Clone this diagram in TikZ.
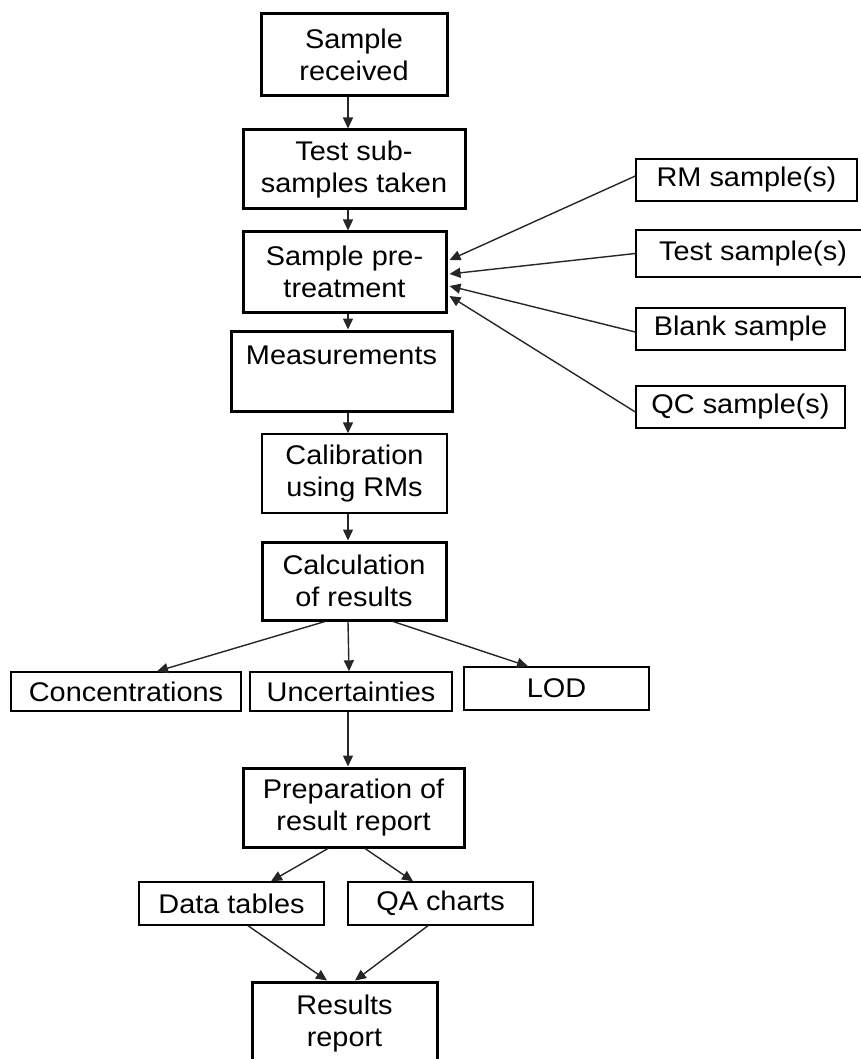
\documentclass[tikz,border=0pt]{standalone}
\usepackage{fontspec}
\setmainfont{Liberation Sans}[FakeStretch=1.07]
\usetikzlibrary{arrows.meta,calc}
\begin{document}
\begin{tikzpicture}[x=1pt,y=-1pt,
  box/.style={draw=black,rectangle,inner sep=0pt,align=center,
    font=\fontsize{27}{32}\selectfont},
  thickbox/.style={box,line width=3pt},
  thinbox/.style={box,line width=1.4pt},
  arr/.style={line width=1.4pt,draw=black!85,-{Triangle[length=11pt,width=10pt]}}]
\useasboundingbox (0,0) rectangle (860,1059);
\coordinate (col) at (348,0);
% main column
\node[thickbox,minimum width=186pt,minimum height=82pt] (recv) at (354,55) {Sample\\received};
\node[thickbox,minimum width=222pt,minimum height=79pt] (sub) at (354,169.5) {Test sub-\\samples taken};
\node[thickbox,minimum width=203pt,minimum height=80pt] (pre) at (344.5,272) {Sample pre-\\treatment};
\node[thickbox,minimum width=221pt,minimum height=80pt] (meas) at (341.5,371) {Measurements\\~};
\node[thinbox,minimum width=185pt,minimum height=79pt] (calib) at (354.5,473.5) {Calibration\\using RMs};
\node[thickbox,minimum width=184pt,minimum height=78pt] (calc) at (354,581) {Calculation\\of results};
\node[thinbox,minimum width=230pt,minimum height=39pt] (conc) at (126,691.5) {Concentrations};
\node[thinbox,minimum width=202pt,minimum height=39pt] (unc) at (351,691.5) {Uncertainties};
\node[thinbox,minimum width=185pt,minimum height=43pt] (lod) at (556.5,688.5) {LOD};
\node[thickbox,minimum width=221pt,minimum height=79pt] (prep) at (353.5,807.5) {Preparation of\\result report};
\node[thinbox,minimum width=185pt,minimum height=43pt] (data) at (231.5,903.5) {Data tables};
\node[thinbox,minimum width=185pt,minimum height=43pt] (qa) at (440.5,903.5) {QA charts};
\node[thickbox,minimum width=185pt,minimum height=83pt] (res) at (344.5,1023.5) {Results\\report};
% side inputs
\node[thinbox,minimum width=221pt,minimum height=42pt] (rm) at (746.5,180) {RM sample(s)};
\node[thinbox,minimum width=234pt,minimum height=47pt] (test) at (753,253.5) {Test sample(s)};
\node[thinbox,minimum width=209pt,minimum height=42pt] (blank) at (740.5,329) {Blank sample};
\node[thinbox,minimum width=209pt,minimum height=42pt] (qc) at (740.5,407) {QC sample(s)};
% vertical connectors
\draw[arr] (recv.south -| col) -- (sub.north -| col);
\draw[arr] (sub.south -| col) -- (pre.north -| col);
\draw[arr] (pre.south -| col) -- (meas.north -| col);
\draw[arr] (meas.south -| col) -- (calib.north -| col);
\draw[arr] (calib.south -| col) -- (calc.north -| col);
\draw[arr] (unc.south -| col) -- (prep.north -| col);
% side arrows
\draw[arr] ([yshift=4pt]rm.west) -- ([xshift=2pt,yshift=12pt]pre.east);
\draw[arr] (test.west) -- ([xshift=2pt,yshift=-2pt]pre.east);
\draw[arr] ([yshift=-3pt]blank.west) -- ([xshift=2pt,yshift=-14pt]pre.east);
\draw[arr] ([yshift=-5pt]qc.west) -- ([xshift=2pt,yshift=-24pt]pre.east);
% results fan-out
\draw[arr] ([xshift=-29pt]calc.south) -- ([xshift=31pt]conc.north);
\draw[arr] ([xshift=-6pt]calc.south) -- ([xshift=-2pt]unc.north);
\draw[arr] ([xshift=39pt]calc.south) -- ([xshift=-28.5pt]lod.north);
% report
\draw[arr] ([xshift=-25.5pt]prep.south) -- ([xshift=39.5pt]data.north);
\draw[arr] ([xshift=11.5pt]prep.south) -- ([xshift=-27.5pt]qa.north);
\draw[arr] ([xshift=16.5pt]data.south) -- ([xshift=-17.5pt]res.north);
\draw[arr] ([xshift=-12.5pt]qa.south) -- ([xshift=10.5pt]res.north);
\end{tikzpicture}
\end{document}
